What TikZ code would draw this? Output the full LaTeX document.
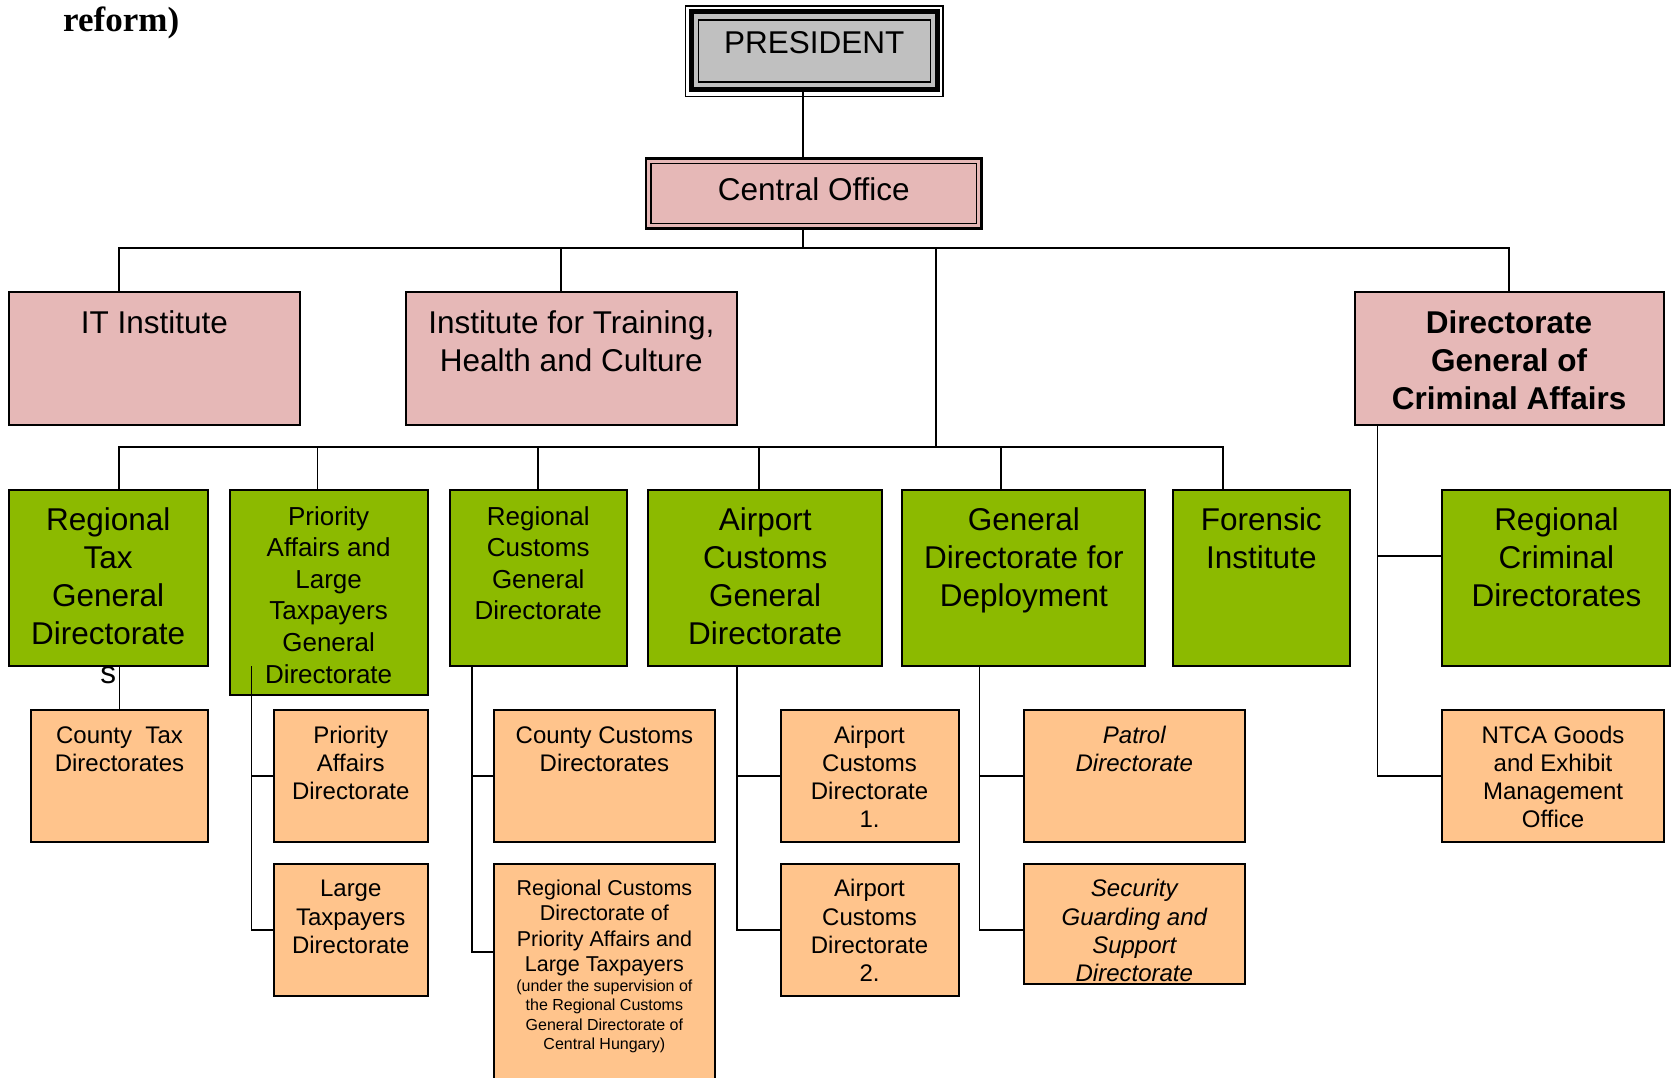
\documentclass[tikz,border=0pt]{standalone}
\usepackage{fontspec}
\setmainfont{Liberation Sans}
\newfontfamily\titleserif{Liberation Serif}
\definecolor{orgpink}{HTML}{E6B8B7}
\definecolor{orggreen}{HTML}{8CBA00}
\definecolor{orgpeach}{HTML}{FFC48C}
\definecolor{orggray}{HTML}{C0C0C0}
\newcommand\boxtext[4]{\parbox[t][#2pt][t]{#1pt}{\centering\rule{0pt}{#3pt}#4}}

\begin{document}
\begin{tikzpicture}[x=1pt,y=-1pt,
    orgbox/.style={draw, line width=2pt, inner sep=0pt, outer sep=0pt, anchor=north west},
    pinkbox/.style={orgbox, fill=orgpink, font=\fontsize{31.5}{38}\selectfont},
    greenbox/.style={orgbox, fill=orggreen, font=\fontsize{31.5}{38.3}\selectfont},
    smallgreen/.style={orgbox, fill=orggreen, font=\fontsize{26}{31.6}\selectfont},
    peachbox/.style={orgbox, fill=orgpeach, font=\fontsize{24}{28.3}\selectfont},
    link/.style={line width=1.6pt}]
    \useasboundingbox (0,0) rectangle (1672,1078);
    \clip (0,0) rectangle (1672,1078);
    \node[anchor=base west, inner sep=0pt, font=\titleserif\bfseries\fontsize{35}{40}\selectfont] (reform) at (63,32) {reform)};
    \node[draw, line width=5pt, fill=orggray, inner sep=0pt, outer sep=0pt, anchor=north west, font=\fontsize{31.5}{38}\selectfont] (pres) at (691,12) {\boxtext{246.5}{77.5}{41.3}{PRESIDENT}};
    \draw[line width=1.5pt] ([shift={(-5.5,-6)}]pres.north west) rectangle ([shift={(5.5,7)}]pres.south east);
    \draw[line width=1.5pt] ([shift={(7.5,8)}]pres.north west) rectangle ([shift={(-7,-7.5)}]pres.south east);
    \node[pinkbox, line width=2.5pt] (central) at (646,158.5) {\boxtext{335.5}{70}{42}{Central Office}};
    \draw[line width=1.2pt] ([shift={(5,5)}]central.north west) rectangle ([shift={(-5,-5)}]central.south east);
    \node[pinkbox] (itinst) at (8.7,292.3) {\boxtext{291.3}{132.7}{41}{IT Institute}};
    \node[pinkbox] (train) at (405.6,292.3) {\boxtext{331.4}{132.7}{41}{Institute for Training,\\Health and Culture}};
    \node[pinkbox, font=\bfseries\fontsize{31.5}{38}\selectfont] (dgc) at (1354.5,292.3) {\boxtext{309.2}{132.7}{41}{Directorate\\General of\\Criminal Affairs}};
    \node[greenbox] (rtax) at (8.7,490) {\boxtext{199}{176}{40}{Regional\\Tax\\General\\Directorate\\s}};
    \node[smallgreen] (prio) at (229.6,490) {\boxtext{198}{205}{35}{Priority\\Affairs and\\Large\\Taxpayers\\General\\Directorate}};
    \node[smallgreen] (rcus) at (450,490) {\boxtext{176.5}{176}{35}{Regional\\Customs\\General\\Directorate}};
    \node[greenbox] (airp) at (648,490) {\boxtext{234.3}{176}{40}{Airport\\Customs\\General\\Directorate}};
    \node[greenbox] (gdd) at (902.3,490) {\boxtext{243.1}{176}{40}{General\\Directorate for\\Deployment}};
    \node[greenbox] (foren) at (1173.2,490) {\boxtext{176.3}{176}{40}{Forensic\\Institute}};
    \node[greenbox] (rcrim) at (1442.4,490) {\boxtext{228}{176}{40}{Regional\\Criminal\\Directorates}};
    \node[peachbox] (ctax) at (31,710) {\boxtext{177}{132.3}{33}{County\ \ Tax\\Directorates}};
    \node[peachbox] (paff) at (273.5,710) {\boxtext{154.5}{132}{33}{Priority\\Affairs\\Directorate}};
    \node[peachbox] (ltax) at (273.5,864) {\boxtext{154.5}{131.7}{32.7}{Large\\Taxpayers\\Directorate}};
    \node[peachbox] (ccus) at (494,710) {\boxtext{220.8}{132}{33}{County Customs\\Directorates}};
    \node[peachbox, font=\fontsize{21.5}{25.6}\selectfont] (rcp) at (494,864) {\boxtext{220.8}{226}{31}{Regional Customs\\Directorate of\\Priority Affairs and\\Large Taxpayers\par\fontsize{16}{19.4}\selectfont(under the supervision of\\the Regional Customs\\General Directorate of\\Central Hungary)}};
    \node[peachbox] (aport1) at (780.6,710) {\boxtext{177.9}{132}{33}{Airport\\Customs\\Directorate\\1.}};
    \node[peachbox] (aport2) at (780.6,864) {\boxtext{177.9}{131.7}{32.7}{Airport\\Customs\\Directorate\\2.}};
    \node[peachbox, font=\itshape\fontsize{24}{28.3}\selectfont] (patrol) at (1023.6,710) {\boxtext{221.4}{132}{33}{Patrol\\Directorate}};
    \node[peachbox, font=\itshape\fontsize{24}{28.3}\selectfont] (secur) at (1023.6,864) {\boxtext{221.4}{120.3}{32.7}{Security\\Guarding and\\Support\\Directorate}};
    \node[peachbox] (ntca) at (1442.4,710) {\boxtext{221.3}{132}{33}{NTCA Goods\\and Exhibit\\Management\\Office}};
    \coordinate (spine) at (803,248);
    \coordinate (bus2) at (935.7,447);
    \draw[link] (pres.south -| spine) -- (central.north -| spine);
    \draw[link] (central.south -| spine) -- (spine);
    \draw[link] (itinst.north -| 119,0) |- (spine);
    \draw[link] (train.north -| 561,0) |- (spine);
    \draw[link] (dgc.north) |- (spine);
    \draw[link] (bus2 |- spine) -- (bus2);
    \foreach \x/\n in {119/rtax, 317.3/prio, 538/rcus, 759/airp, 1001/gdd, 1222.7/foren}
        \draw[link] (\n.north -| \x,0) |- (bus2);
    \draw[link] (rtax.south -| ctax.north) -- (ctax.north);
    \coordinate (pline) at ([xshift=21.9pt]prio.south west |- rtax.south);
    \draw[link] (pline) |- (ltax.west);
    \draw[link] (pline |- paff.west) -- (paff.west);
    \coordinate (cline) at ([xshift=22pt]rcus.south west);
    \coordinate (rcpin) at ([yshift=-87.7pt]rcp.north west);
    \draw[link] (cline) |- (rcpin);
    \draw[link] (cline |- ccus.west) -- (ccus.west);
    \coordinate (aline) at ([xshift=89.2pt]airp.south west);
    \draw[link] (aline) |- (aport2.west);
    \draw[link] (aline |- aport1.west) -- (aport1.west);
    \coordinate (gline) at ([xshift=77.3pt]gdd.south west);
    \coordinate (securin) at ([yshift=-66pt]secur.north west);
    \draw[link] (gline) |- (securin);
    \draw[link] (gline |- patrol.west) -- (patrol.west);
    \coordinate (dline) at ([xshift=22.8pt]dgc.south west);
    \coordinate (rcrimin) at ([yshift=22pt]rcrim.west);
    \draw[link] (dline) |- (ntca.west);
    \draw[link] (dline |- rcrimin) -- (rcrimin);
\end{tikzpicture}
\end{document}
